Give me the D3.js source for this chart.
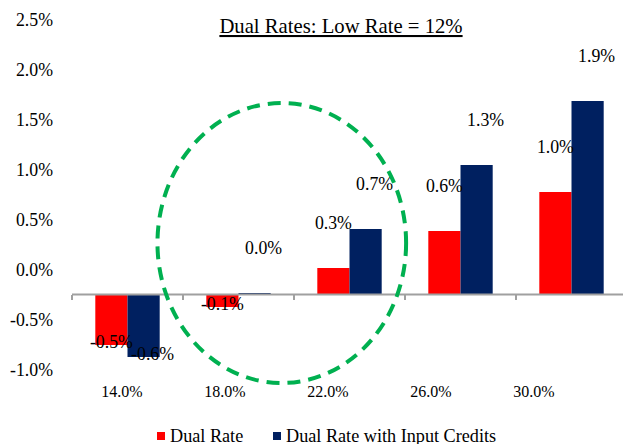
<html><head>
<meta charset="utf-8">
<script src="https://d3js.org/d3.v7.min.js"></script>
<style>
body { margin: 0; background: #fff; }
text { font-family: "Liberation Serif", "Times New Roman", serif; fill: #000; }
</style>
</head>
<body>
<svg id="chart" width="623" height="444"></svg>
<script>
    const categories = ["14.0%", "18.0%", "22.0%", "26.0%", "30.0%"];
    const dualRate = [-0.50, -0.12, 0.27, 0.64, 1.03];
    const dualRateCredits = [-0.62, 0.02, 0.66, 1.30, 1.94];
    const seriesNames = ["Dual Rate", "Dual Rate with Input Credits"];
    const seriesColors = ["#ff0000", "#002060"];
    const yTicks = [-1.0, -0.5, 0.0, 0.5, 1.0, 1.5, 2.0, 2.5];

    const svg = d3.select("#chart");
    // plain hyphen for negatives, like the original
    const pct = d3.formatLocale({ decimal: ".", thousands: ",", grouping: [3], currency: ["", ""], minus: "-" }).format(".1%");

    // value scale (0 sits on the category axis)
    const y = d3.scaleLinear().domain([-1, 2.5]).range([395, 45]);
    // tick labels in the picture sit a quarter point above the bar scale
    const yTick = d3.scaleLinear().domain([-1.255, 2.245]).range([395, 45]);

    const x = d3.scaleBand().domain(categories).range([72, 627])
        .paddingInner(0.42).paddingOuter(0.21);
    const xSeries = d3.scaleBand().domain([0, 1]).range([0, x.bandwidth()]);
    // category labels are spaced a bit tighter than the bars
    const xLabel = d3.scaleBand().domain(categories).range([70.5, 585.5]);

    //title
    svg.append("text")
        .attr("x", 341).attr("y", 33)
        .attr("text-anchor", "middle")
        .style("font-size", "20.7px")
        .style("text-decoration", "underline")
        .text("Dual Rates: Low Rate = 12%");

    //y labels
    const yAxis = svg.append("g")
        .attr("transform", "translate(56,0)")
        .call(d3.axisLeft(yTick).tickValues(yTicks).tickSize(0).tickPadding(3)
            .tickFormat(d => pct(d / 100)));
    yAxis.select(".domain").remove();
    yAxis.attr("font-family", null).attr("font-size", null);
    yAxis.selectAll("text").style("font-size", "17.8px");

    //bars
    const rows = categories.map((c, i) => ({ cat: c, vals: [dualRate[i], dualRateCredits[i]] }));
    const groups = svg.selectAll("g.group").data(rows)
        .join("g").attr("class", "group")
        .attr("transform", d => "translate(" + x(d.cat) + ",0)");

    groups.selectAll("rect").data(d => d.vals.map((v, s) => ({ v, s })))
        .join("rect")
        .attr("x", d => xSeries(d.s))
        .attr("width", xSeries.bandwidth())
        .attr("y", d => Math.min(y(d.v), y(0)))
        .attr("height", d => Math.abs(y(d.v) - y(0)))
        .attr("fill", d => seriesColors[d.s]);

    //category axis line + ticks
    const axisColor = "#a0a0a0";
    svg.append("line")
        .attr("x1", x.range()[0]).attr("x2", x.range()[1])
        .attr("y1", y(0) - 0.5).attr("y2", y(0) - 0.5)
        .attr("stroke", axisColor).attr("stroke-width", 2);
    svg.selectAll("line.tick").data(d3.range(categories.length + 1))
        .join("line").attr("class", "tick")
        .attr("x1", i => x.range()[0] + i * x.step())
        .attr("x2", i => x.range()[0] + i * x.step())
        .attr("y1", y(0)).attr("y2", y(0) + 5)
        .attr("stroke", axisColor).attr("stroke-width", 2);

    //data labels
    groups.selectAll("text.val").data(d => d.vals.map((v, s) => ({ v, s })))
        .join("text").attr("class", "val")
        .attr("x", d => xSeries(d.s) + xSeries.bandwidth() / 2 + (d.s === 1 ? 9 : 0))
        .attr("y", d => d.v >= 0 ? y(d.v) - 45 : y(d.v) - 3)
        .attr("dy", "0.35em")
        .attr("text-anchor", "middle")
        .style("font-size", "17.8px")
        .text(d => pct(d.v / 100));

    //x labels
    const xAxis = svg.append("g")
        .attr("transform", "translate(0,382.6)")
        .call(d3.axisBottom(xLabel).tickSize(0).tickPadding(3));
    xAxis.select(".domain").remove();
    xAxis.attr("font-family", null).attr("font-size", null);
    xAxis.selectAll("text").style("font-size", "16px");

    //green dashed highlight round the 18% / 22% groups
    const hx = x(categories[1]) + x.bandwidth() / 2 + 0.39 * x.step();
    svg.append("ellipse")
        .attr("cx", hx).attr("cy", y(0.52))
        .attr("rx", 1.12 * x.step()).attr("ry", y(0) - y(1.4))
        .attr("fill", "none")
        .attr("stroke", "#00b050").attr("stroke-width", 4)
        .attr("stroke-dasharray", "13,8");

    //legend
    const legendX = [157, 273];
    const legend = svg.selectAll("g.legend").data(seriesNames)
        .join("g").attr("class", "legend")
        .attr("transform", (d, i) => "translate(" + legendX[i] + ",432)");
    legend.append("rect").attr("width", 8).attr("height", 8)
        .attr("fill", (d, i) => seriesColors[i]);
    legend.append("text").attr("x", 13).attr("y", 9.5)
        .style("font-size", "18.2px")
        .text(d => d);
</script>
</body>
</html>
